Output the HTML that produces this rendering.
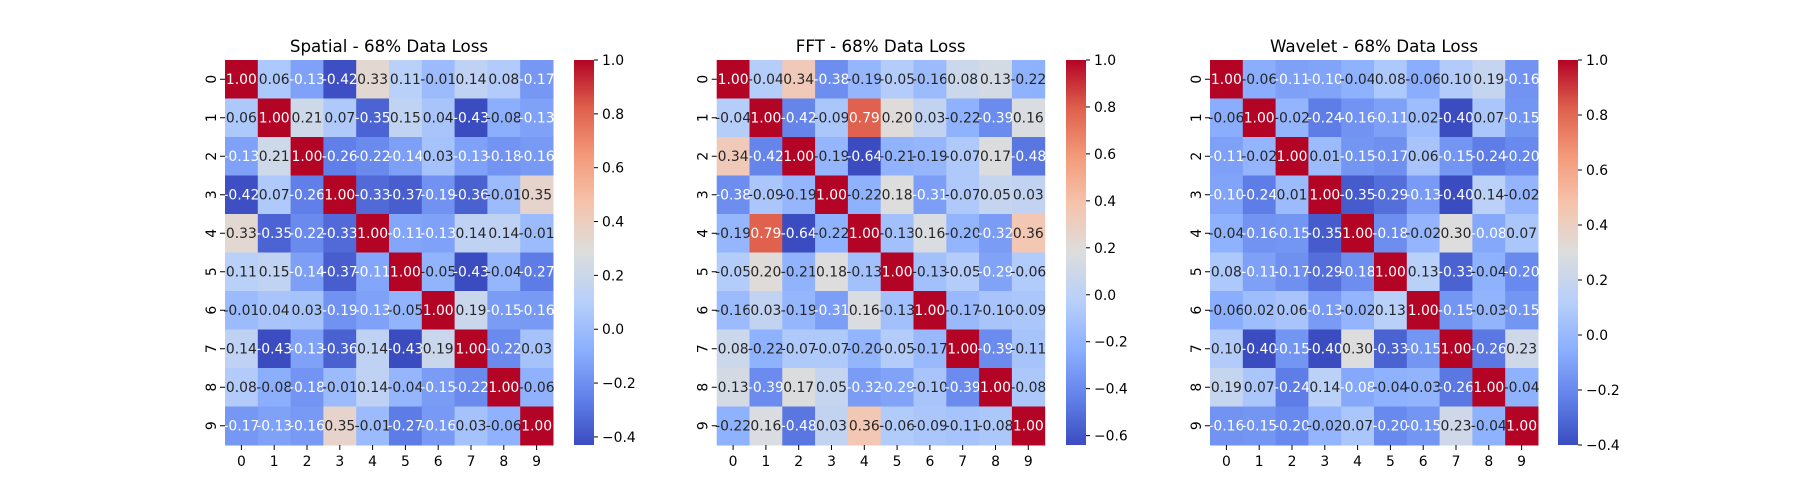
<!DOCTYPE html>
<html><head><meta charset="utf-8"><style>
html,body{margin:0;padding:0;background:#fff;}
svg{display:block;font-family:"DejaVu Sans","Liberation Sans",sans-serif;}
</style></head><body>
<svg id="fig" width="1800" height="500" viewBox="0 0 1800 500"></svg>
<script>
const categories = [0,1,2,3,4,5,6,7,8,9];
const spatialValues = [
[1.00,0.06,-0.13,-0.42,0.33,0.11,-0.01,0.14,0.08,-0.17],
[0.06,1.00,0.21,0.07,-0.35,0.15,0.04,-0.43,-0.08,-0.13],
[-0.13,0.21,1.00,-0.26,-0.22,-0.14,0.03,-0.13,-0.18,-0.16],
[-0.42,0.07,-0.26,1.00,-0.33,-0.37,-0.19,-0.36,-0.01,0.35],
[0.33,-0.35,-0.22,-0.33,1.00,-0.11,-0.13,0.14,0.14,-0.01],
[0.11,0.15,-0.14,-0.37,-0.11,1.00,-0.05,-0.43,-0.04,-0.27],
[-0.01,0.04,0.03,-0.19,-0.13,-0.05,1.00,0.19,-0.15,-0.16],
[0.14,-0.43,-0.13,-0.36,0.14,-0.43,0.19,1.00,-0.22,0.03],
[0.08,-0.08,-0.18,-0.01,0.14,-0.04,-0.15,-0.22,1.00,-0.06],
[-0.17,-0.13,-0.16,0.35,-0.01,-0.27,-0.16,0.03,-0.06,1.00]];
const fftValues = [
[1.00,-0.04,0.34,-0.38,-0.19,-0.05,-0.16,0.08,0.13,-0.22],
[-0.04,1.00,-0.42,-0.09,0.79,0.20,0.03,-0.22,-0.39,0.16],
[0.34,-0.42,1.00,-0.19,-0.64,-0.21,-0.19,-0.07,0.17,-0.48],
[-0.38,-0.09,-0.19,1.00,-0.22,0.18,-0.31,-0.07,0.05,0.03],
[-0.19,0.79,-0.64,-0.22,1.00,-0.13,0.16,-0.20,-0.32,0.36],
[-0.05,0.20,-0.21,0.18,-0.13,1.00,-0.13,-0.05,-0.29,-0.06],
[-0.16,0.03,-0.19,-0.31,0.16,-0.13,1.00,-0.17,-0.10,-0.09],
[0.08,-0.22,-0.07,-0.07,-0.20,-0.05,-0.17,1.00,-0.39,-0.11],
[0.13,-0.39,0.17,0.05,-0.32,-0.29,-0.10,-0.39,1.00,-0.08],
[-0.22,0.16,-0.48,0.03,0.36,-0.06,-0.09,-0.11,-0.08,1.00]];
const waveletValues = [
[1.00,-0.06,-0.11,-0.10,-0.04,0.08,-0.06,0.10,0.19,-0.16],
[-0.06,1.00,-0.02,-0.24,-0.16,-0.11,0.02,-0.40,0.07,-0.15],
[-0.11,-0.02,1.00,0.01,-0.15,-0.17,0.06,-0.15,-0.24,-0.20],
[-0.10,-0.24,0.01,1.00,-0.35,-0.29,-0.13,-0.40,0.14,-0.02],
[-0.04,-0.16,-0.15,-0.35,1.00,-0.18,-0.02,0.30,-0.08,0.07],
[0.08,-0.11,-0.17,-0.29,-0.18,1.00,0.13,-0.33,-0.04,-0.20],
[-0.06,0.02,0.06,-0.13,-0.02,0.13,1.00,-0.15,-0.03,-0.15],
[0.10,-0.40,-0.15,-0.40,0.30,-0.33,-0.15,1.00,-0.26,0.23],
[0.19,0.07,-0.24,0.14,-0.08,-0.04,-0.03,-0.26,1.00,-0.04],
[-0.16,-0.15,-0.20,-0.02,0.07,-0.20,-0.15,0.23,-0.04,1.00]];
const titles = ["Spatial - 68% Data Loss","FFT - 68% Data Loss","Wavelet - 68% Data Loss"];
const cbarTicks = [[-0.4,-0.2,0.0,0.2,0.4,0.6,0.8,1.0],[-0.6,-0.4,-0.2,0.0,0.2,0.4,0.6,0.8,1.0],[-0.4,-0.2,0.0,0.2,0.4,0.6,0.8,1.0]];
const datasets = [spatialValues, fftValues, waveletValues];

const NS="http://www.w3.org/2000/svg";
const svg=document.getElementById('fig');
function mk(tag,attrs,parent){const e=document.createElementNS(NS,tag);for(const k in attrs)e.setAttribute(k,attrs[k]);(parent||svg).appendChild(e);return e;}
const CM=[[59,76,192],[98,130,234],[141,176,254],[184,208,249],[221,221,221],[245,196,173],[244,154,123],[222,96,77],[180,4,38]];
function cmap(t){t=Math.max(0,Math.min(1,t));const p=t*8,i=Math.min(7,Math.floor(p)),f=p-i;return CM[i].map((c,k)=>Math.round(c+(CM[i+1][k]-c)*f));}
function lum(c){const l=c.map(v=>{v/=255;return v<=0.03928?v/12.92:Math.pow((v+0.055)/1.055,2.4);});return 0.2126*l[0]+0.7152*l[1]+0.0722*l[2];}
function fmt(v){return v.toFixed(2);}

const lefts=[225,716.7,1210], W=328, topY=60, H=385;
const cbx=[574,1066,1558], cbw=20;
datasets.forEach((data,p)=>{
  const g=mk('g',{});
  
  
  const flat=data.flat(), vmin=Math.min(...flat), vmax=Math.max(...flat);
  const cw=W/categories.length, ch=H/categories.length, x0=lefts[p];
  const xs=i=>x0+i*cw, ys=j=>topY+j*ch;
  const t=mk('text',{x:x0+W/2,y:52,'text-anchor':'middle','font-size':16.7,fill:'#000'},g);
  t.textContent=titles[p];
  
  
  data.forEach((row,j)=>row.forEach((v,i)=>{
    const c=cmap((v-vmin)/(vmax-vmin));
    const r=mk('rect',{x:xs(i),y:ys(j),width:cw+0.5,height:ch+0.5,fill:`rgb(${c})`},g);
    
    
    const tx=mk('text',{x:xs(i)+cw/2,y:ys(j)+ch/2+4.5,'text-anchor':'middle','font-size':13.9,fill:lum(c)<0.408?'#fff':'#262626'},g);
    tx.textContent=fmt(v);
    
    
  }));
  categories.forEach((c,i)=>{
    mk('line',{x1:xs(i)+cw/2,x2:xs(i)+cw/2,y1:topY+H,y2:topY+H+5,stroke:'#000','stroke-width':1},g);
    const lx=mk('text',{x:xs(i)+cw/2,y:topY+H+21,'text-anchor':'middle','font-size':13.9,fill:'#000'},g);
    lx.textContent=c;
    
    
    mk('line',{x1:x0-5,x2:x0,y1:ys(i)+ch/2,y2:ys(i)+ch/2,stroke:'#000','stroke-width':1},g);
    const yx=x0-9, yy=ys(i)+ch/2;
    const ly=mk('text',{x:yx,y:yy,'text-anchor':'middle','font-size':13.9,fill:'#000',transform:`rotate(-90 ${yx} ${yy})`},g);
    ly.textContent=c;
    
    
  });
  const gid='grad'+p;
  const defs=mk('defs',{},g);
  const lg=mk('linearGradient',{id:gid,x1:0,y1:1,x2:0,y2:0},defs);
  for(let k=0;k<=8;k++) mk('stop',{offset:k/8,'stop-color':`rgb(${CM[k]})`},lg);
  const cb=mk('rect',{x:cbx[p],y:topY,width:cbw,height:H,fill:`url(#${gid})`},g);
  
  
  const cy=v=>topY+H-(v-vmin)/(vmax-vmin)*H;
  cbarTicks[p].forEach(v=>{
    if(v<vmin-1e-9||v>vmax+1e-9)return;
    const y=cy(v);
    mk('line',{x1:cbx[p]+cbw,x2:cbx[p]+cbw+4,y1:y,y2:y,stroke:'#000','stroke-width':1},g);
    const tl=mk('text',{x:cbx[p]+cbw+8,y:y+5,'font-size':13.9,fill:'#000'},g);
    tl.textContent=v.toFixed(1).replace('-','\u2212');
    
    
  });
});
</script>
</body></html>
